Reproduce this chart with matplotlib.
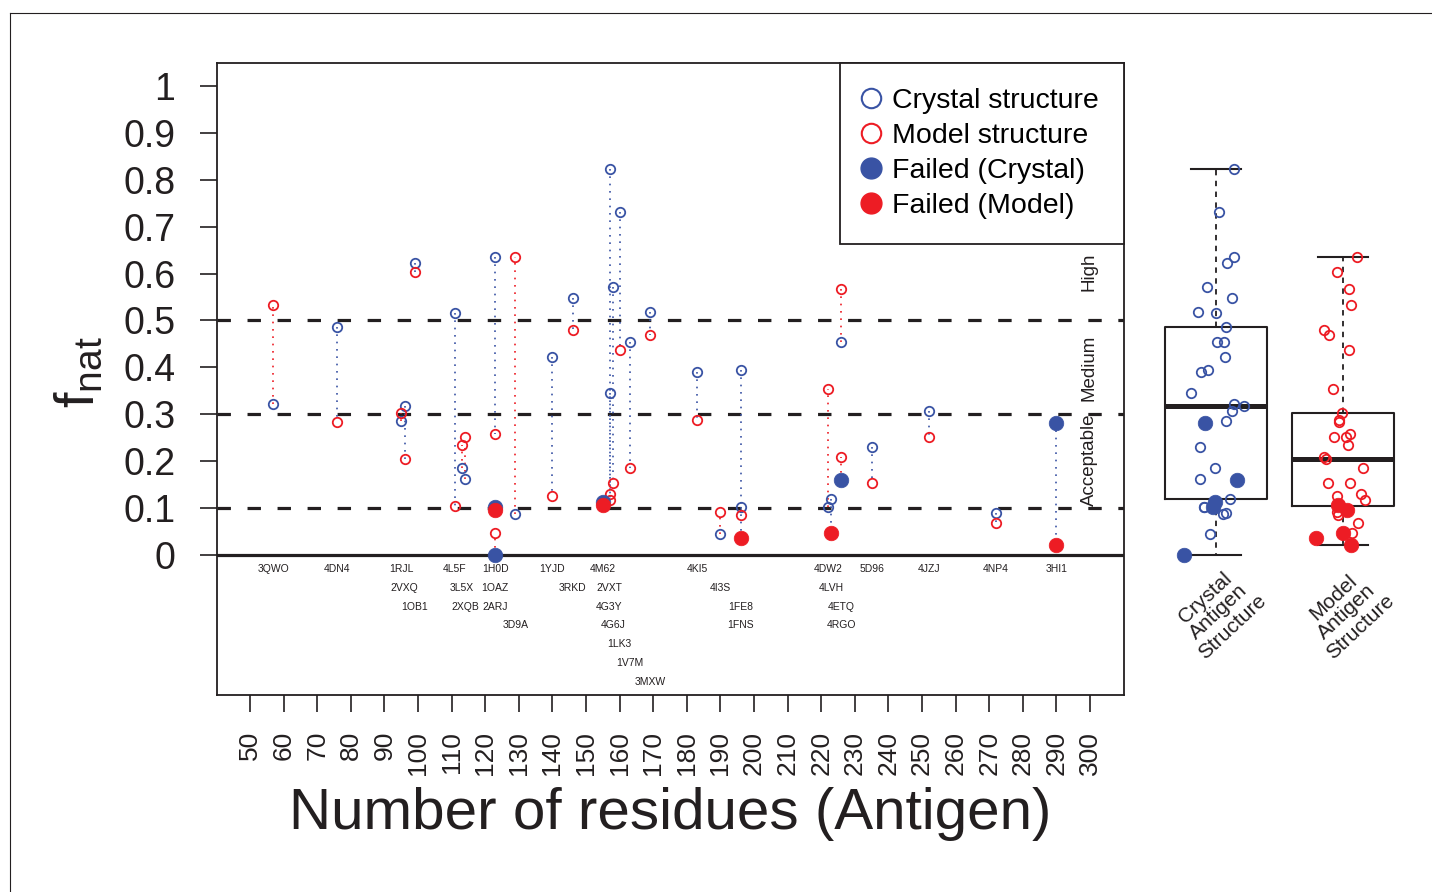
import matplotlib
matplotlib.use('Agg')
import matplotlib.pyplot as plt
from matplotlib.lines import Line2D
import numpy as np

plt.rcParams['font.family'] = ['Liberation Sans', 'DejaVu Sans']
plt.rcParams['mathtext.fontset'] = 'custom'
plt.rcParams['mathtext.rm'] = 'Liberation Sans'
plt.rcParams['mathtext.default'] = 'regular'

# data
antigens = ['3QWO', '4DN4', '1RJL', '2VXQ', '1OB1', '4L5F', '3L5X', '2XQB',
            '1H0D', '1OAZ', '2ARJ', '3D9A', '1YJD', '3RKD', '4M62', '2VXT',
            '4G3Y', '4G6J', '1LK3', '1V7M', '3MXW', '4KI5', '4I3S', '1FE8',
            '1FNS', '4DW2', '4LVH', '4ETQ', '4RGO', '5D96', '4JZJ', '4NP4', '3HI1']
residues = [57, 76, 95, 96, 99, 111, 113, 114, 123, 123, 123, 129, 140, 146, 155, 157,
            157, 158, 160, 163, 169, 183, 190, 196, 196, 222, 223, 226, 226, 235, 252, 272, 290]
fnat_crystal = [0.323, 0.487, 0.286, 0.317, 0.622, 0.517, 0.185, 0.161, 0.635, 0.103, 0.000,
                0.087, 0.422, 0.548, 0.114, 0.824, 0.346, 0.571, 0.732, 0.454, 0.518, 0.390,
                0.045, 0.394, 0.103, 0.103, 0.119, 0.454, 0.160, 0.231, 0.306, 0.090, 0.282]
fnat_model = [0.534, 0.283, 0.302, 0.205, 0.604, 0.104, 0.235, 0.251, 0.257, 0.097, 0.046,
              0.635, 0.126, 0.480, 0.107, 0.131, 0.117, 0.153, 0.437, 0.186, 0.470, 0.288,
              0.092, 0.085, 0.036, 0.354, 0.046, 0.568, 0.210, 0.153, 0.251, 0.069, 0.021]
failed_crystal = ['1OAZ', '2ARJ', '4M62', '4RGO', '3HI1']
failed_model = ['1OAZ', '4M62', '1FNS', '4LVH', '3HI1']
# horizontal jitter of the strip points over the boxplots
jitter_crystal = [0.144, 0.079, 0.079, 0.220, 0.089, 0.0, -0.008, -0.128, 0.142, -0.026, -0.25,
                  0.057, 0.073, 0.124, -0.01, 0.144, -0.197, -0.073, 0.026, 0.005, -0.144, -0.120,
                  -0.047, -0.063, -0.092, -0.092, 0.108, 0.063, 0.168, -0.126, 0.128, 0.079, -0.084]
jitter_model = [0.063, -0.031, -0.008, -0.134, -0.045, -0.02, 0.039, -0.068, 0.055, 0.029, 0.068,
                0.113, -0.045, -0.147, -0.037, 0.142, 0.173, 0.055, 0.047, 0.155, -0.108, -0.031,
                -0.05, -0.04, -0.213, -0.076, 0.0, 0.047, -0.150, -0.116, 0.021, 0.12, 0.063]
thresholds = [0.1, 0.3, 0.5]
quality = [('High', 0.603), ('Medium', 0.40), ('Acceptable', 0.203)]
box_labels = ['Crystal\nAntigen\nStructure', 'Model\nAntigen\nStructure']

BLUE = '#3953A4'
RED = '#ED1C24'
INK = '#231F20'

W, H = 1432, 892
fig = plt.figure(figsize=(W / 100, H / 100), dpi=100)


def px_box(l, t, r, b):
    return [l / W, 1 - b / H, (r - l) / W, (b - t) / H]


ax = fig.add_axes(px_box(217, 63, 1124, 695))
ax.set_xlim(40.2, 310.1)
ax.set_ylim(-0.2985, 1.049)

for y in thresholds:
    ax.axhline(y, color=INK, lw=2.3, ls=(0, (4.2, 5.2)), zorder=1)
ax.axhline(0, color=INK, lw=2.3, zorder=1)

fail_c = [a in failed_crystal for a in antigens]
fail_m = [a in failed_model for a in antigens]

for x, c, m in zip(residues, fnat_crystal, fnat_model):
    col = RED if m > c else BLUE
    ax.plot([x, x], [c, m], color=col, lw=1.2, ls=(0, (1, 3.4)), zorder=2)


def draw_points(axis, xs, ys, failed, color, zf):
    hx = [x for x, f in zip(xs, failed) if not f]
    hy = [y for y, f in zip(ys, failed) if not f]
    fx = [x for x, f in zip(xs, failed) if f]
    fy = [y for y, f in zip(ys, failed) if f]
    axis.plot(hx, hy, 'o', ls='none', ms=6.8, mfc='none', mec=color, mew=1.3, zorder=3)
    axis.plot(fx, fy, 'o', ls='none', ms=10.5, mfc=color, mec=color, mew=0.5, zorder=zf,
              clip_on=False)


draw_points(ax, residues, fnat_crystal, fail_c, BLUE, 4)
draw_points(ax, residues, fnat_model, fail_m, RED, 5)

# antigen names stacked under the zero line
row, prev = 0, None
for name, x in zip(antigens, residues):
    row = row + 1 if prev is not None and x - prev < 8 else 0
    prev = x
    ax.text(x, -0.030 - 0.04 * row, name, ha='center', va='center', fontsize=7.5, color=INK)

for txt, y in quality:
    ax.text(299.7, y, txt, rotation=90, ha='center', va='center', fontsize=13.5, color=INK)

ax.set_yticks(np.arange(0, 1.01, 0.1))
ax.set_yticklabels(['0'] + ['%.1f' % v for v in np.arange(0.1, 0.95, 0.1)] + ['1'])
ax.set_xticks(range(50, 301, 10))
ax.set_xticklabels([str(v) for v in range(50, 301, 10)], rotation=90)
ax.tick_params(axis='y', length=12, width=1.2, pad=18, labelsize=27, colors=INK)
ax.tick_params(axis='x', length=12, width=1.2, pad=14, labelsize=19, colors=INK)
for s in ax.spines.values():
    s.set_linewidth(1.3)
    s.set_color(INK)

handles = [
    Line2D([], [], marker='o', ls='none', mfc='none', mec=BLUE, mew=1.5, ms=14),
    Line2D([], [], marker='o', ls='none', mfc='none', mec=RED, mew=1.5, ms=14),
    Line2D([], [], marker='o', ls='none', mfc=BLUE, mec=BLUE, ms=15),
    Line2D([], [], marker='o', ls='none', mfc=RED, mec=RED, ms=15),
]
leg = ax.legend(handles, ['Crystal structure', 'Model structure', 'Failed (Crystal)', 'Failed (Model)'],
                loc='upper right', bbox_to_anchor=(1, 1), borderaxespad=0, fancybox=False,
                edgecolor=INK, framealpha=1, fontsize=20.5, handlelength=0.4, handletextpad=0.55,
                labelspacing=0.315, borderpad=0.88)
leg.get_frame().set_linewidth(1.3)

fig.text(80 / W, 1 - 372 / H, r'f$_{nat}$', rotation=90, ha='center', va='center',
         fontsize=40, color=INK)
fig.text(670.5 / W, 1 - 829 / H, 'Number of residues (Antigen)', ha='center', va='baseline',
         fontsize=42, color=INK)

# boxplots on the right
ax2 = fig.add_axes(px_box(1152.5, 63, 1406.5, 695))
ax2.set_xlim(0.5, 2.5)
ax2.set_ylim(-0.2985, 1.049)
ax2.axis('off')
ax2.boxplot([fnat_crystal, fnat_model], positions=[1, 2], widths=0.8, whis=(0, 100),
            showfliers=False, capwidths=0.4,
            boxprops=dict(color=INK, lw=1.5),
            medianprops=dict(color=INK, lw=3.6),
            whiskerprops=dict(color=INK, lw=1.3, ls=(0, (3, 3))),
            capprops=dict(color=INK, lw=1.5))
draw_points(ax2, [1 + j for j in jitter_crystal], fnat_crystal, fail_c, BLUE, 4)
draw_points(ax2, [2 + j for j in jitter_model], fnat_model, fail_m, RED, 5)
for xpos, lab in zip([1.02, 2.03], box_labels):
    ax2.text(xpos, -0.122, lab, rotation=43, ha='center', va='center', fontsize=15,
             linespacing=1.05, multialignment='center', color=INK)

# outer frame lines
fig.add_artist(Line2D([10 / W, 10 / W], [0, 1 - 13 / H], transform=fig.transFigure,
                      color=INK, lw=0.8))
fig.add_artist(Line2D([10 / W, 1], [1 - 13 / H, 1 - 13 / H], transform=fig.transFigure,
                      color=INK, lw=0.8))

fig.savefig('out.png', dpi=100)
